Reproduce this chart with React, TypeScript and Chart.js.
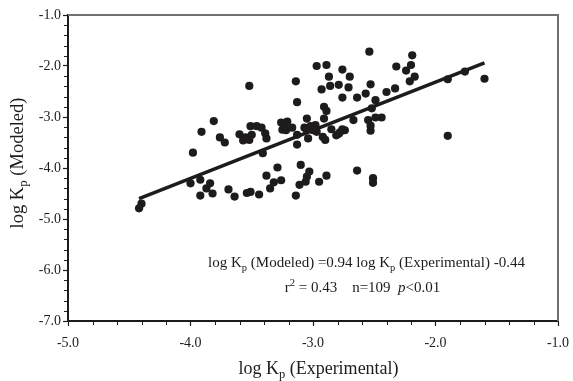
import { useEffect, useRef } from 'react';
import { Chart, registerables } from 'chart.js';

Chart.register(...registerables);

// ---- data ----
const expX = [
  -4.42, -4.40, -3.98, -4.00, -3.92, -3.92, -3.87, -3.84, -3.82, -3.91,
  -3.81, -3.76, -3.72, -3.69, -3.64, -3.60, -3.57, -3.52, -3.50, -3.51,
  -3.46, -3.42, -3.39, -3.38, -3.54, -3.51, -3.44, -3.52, -3.41, -3.38,
  -3.35, -3.32, -3.29, -3.26, -3.26, -3.21, -3.25, -3.22, -3.17, -3.14,
  -3.13, -3.13, -3.13, -3.14, -3.11, -3.10, -3.06, -3.05, -3.03, -3.07,
  -3.02, -2.98, -3.05, -2.97, -3.05, -3.04, -2.97, -2.89, -2.76, -2.87,
  -2.70, -2.93, -2.86, -2.79, -2.71, -2.76, -2.64, -2.91, -2.89, -2.91,
  -2.92, -2.90, -2.85, -2.81, -2.79, -2.76, -2.74, -2.67, -2.57, -2.54,
  -2.53, -2.55, -2.52, -2.49, -2.49, -2.44, -2.53, -2.53, -2.40, -2.33,
  -2.32, -2.24, -2.20, -2.19, -2.17, -2.21, -1.90, -1.76, -1.60, -1.90,
  -2.95, -2.89, -2.64, -2.51, -2.51, -3.23, -3.00, -2.78, -3.55,
];
const modY = [
  -4.79, -4.70, -3.70, -4.30, -4.23, -4.54, -4.40, -4.30, -4.50, -3.29,
  -3.08, -3.40, -3.50, -4.42, -4.56, -3.34, -3.46, -3.45, -3.35, -3.18,
  -3.18, -3.21, -3.32, -3.42, -4.49, -4.47, -4.52, -2.39, -3.71, -4.15,
  -4.40, -4.28, -3.99, -4.24, -3.11, -3.09, -3.25, -3.26, -3.21, -2.30,
  -2.71, -3.35, -3.54, -4.54, -4.33, -3.94, -4.27, -4.17, -4.07, -3.21,
  -3.18, -3.16, -3.25, -3.29, -3.03, -3.42, -2.00, -1.98, -2.07, -2.21,
  -2.21, -2.46, -2.39, -2.37, -2.42, -2.62, -2.62, -2.80, -2.88, -3.03,
  -3.39, -3.45, -3.24, -3.36, -3.33, -3.24, -3.26, -3.06, -2.54, -1.72,
  -2.36, -3.06, -2.83, -2.67, -3.01, -3.01, -3.17, -3.27, -2.51, -2.44,
  -2.01, -2.09, -1.98, -1.79, -2.21, -2.30, -2.26, -2.11, -2.25, -3.37,
  -4.27, -4.15, -4.05, -4.20, -4.29, -3.17, -3.26, -3.30, -3.40,
];
const fitX = [-4.42, -1.6];
const fitY = [-4.60, -1.94];

const xMin = -5, xMax = -1, xStep = 1, xMinorStep = 0.2;
const yMin = -7, yMax = -1, yStep = 1, yMinorStep = 0.2;

const INK = '#1d1b1c';
const FRAME = '#707070';
const SERIF = '"Liberation Serif", "Times New Roman", serif';

type Seg = { text: string; size: number; dy?: number; italic?: boolean };

function drawRich(ctx: CanvasRenderingContext2D, segs: Seg[], x: number, y: number, center: boolean) {
  const font = (s: Seg) => `${s.italic ? 'italic ' : ''}${s.size}px ${SERIF}`;
  const widths = segs.map((s) => {
    ctx.font = font(s);
    return ctx.measureText(s.text).width;
  });
  const total = widths.reduce((a, b) => a + b, 0);
  let cx = center ? x - total / 2 : x;
  ctx.textAlign = 'left';
  ctx.textBaseline = 'alphabetic';
  segs.forEach((s, i) => {
    ctx.font = font(s);
    ctx.fillText(s.text, cx, y + (s.dy || 0));
    cx += widths[i];
  });
}

const decor = {
  id: 'decor',
  afterDraw(chart: any) {
    const { ctx, chartArea: a, scales } = chart;
    const xs = scales.x;
    const ys = scales.y;
    ctx.save();
    // grey top / right frame
    ctx.strokeStyle = FRAME;
    ctx.lineWidth = 2;
    ctx.beginPath();
    ctx.moveTo(a.left, a.top);
    ctx.lineTo(a.right, a.top);
    ctx.lineTo(a.right, a.bottom);
    ctx.stroke();

    // minor ticks
    ctx.strokeStyle = INK;
    ctx.lineWidth = 1;
    ctx.beginPath();
    for (let v = xMin + xMinorStep; v < xMax - 1e-6; v += xMinorStep) {
      if (Math.abs(v - Math.round(v)) < 1e-6) continue;
      const px = Math.round(xs.getPixelForValue(v)) + 0.5;
      ctx.moveTo(px, a.bottom);
      ctx.lineTo(px, a.bottom + 4);
    }
    for (let v = yMin + yMinorStep; v < yMax - 1e-6; v += yMinorStep) {
      if (Math.abs(v - Math.round(v)) < 1e-6) continue;
      const py = Math.round(ys.getPixelForValue(v)) + 0.5;
      ctx.moveTo(a.left, py);
      ctx.lineTo(a.left - 4, py);
    }
    ctx.stroke();

    ctx.fillStyle = INK;
    // x title
    drawRich(ctx, [
      { text: 'log K', size: 18 },
      { text: 'p', size: 12.5, dy: 4 },
      { text: ' (Experimental)', size: 18 },
    ], 318.5, 374, true);

    // y title (rotated)
    ctx.save();
    ctx.translate(23, 163);
    ctx.rotate(-Math.PI / 2);
    drawRich(ctx, [
      { text: 'log K', size: 18.5 },
      { text: 'p', size: 13, dy: 4 },
      { text: ' (Modeled)', size: 18.5 },
    ], 0, 0, true);
    ctx.restore();

    // equation
    drawRich(ctx, [
      { text: 'log K', size: 15 },
      { text: 'p', size: 10.5, dy: 3.5 },
      { text: ' (Modeled) =0.94 log K', size: 15 },
      { text: 'p', size: 10.5, dy: 3.5 },
      { text: ' (Experimental) -0.44', size: 15 },
    ], 366.5, 267, true);
    drawRich(ctx, [
      { text: 'r', size: 15 },
      { text: '2', size: 10.5, dy: -6 },
      { text: ' = 0.43    n=109  ', size: 15 },
      { text: 'p', size: 15, italic: true },
      { text: '<0.01', size: 15 },
    ], 362.5, 292, true);
    ctx.restore();
  },
};

export default function App() {
  const ref = useRef<HTMLCanvasElement | null>(null);

  useEffect(() => {
    if (!ref.current) return;
    const points = expX.map((x, i) => ({ x, y: modY[i] }));
    const fit = fitX.map((x, i) => ({ x, y: fitY[i] }));
    const tickFont = { family: SERIF, size: 14 };
    const chart = new Chart(ref.current, {
      type: 'scatter',
      data: {
        datasets: [
          {
            data: points,
            backgroundColor: INK,
            borderWidth: 0,
            pointRadius: 4.1,
            pointHoverRadius: 4.1,
          },
          {
            data: fit,
            showLine: true,
            borderColor: INK,
            borderWidth: 3.6,
            pointRadius: 0,
            borderCapStyle: 'butt',
          } as any,
        ],
      },
      options: {
        responsive: false,
        animation: false,
        devicePixelRatio: 1,
        layout: { padding: { top: 15, right: 15, left: 0, bottom: 0 } },
        plugins: { legend: { display: false }, tooltip: { enabled: false } },
        scales: {
          x: {
            type: 'linear',
            min: xMin,
            max: xMax,
            afterFit: (s: any) => { s.height = 60; s.paddingLeft = 0; s.paddingRight = 0; },
            ticks: {
              stepSize: xStep,
              color: INK,
              font: tickFont,
              padding: 9,
              callback: (v: any) => Number(v).toFixed(1),
            },
            grid: {
              drawOnChartArea: false,
              drawTicks: true,
              tickLength: 5,
              tickColor: INK,
              tickWidth: 1.2,
            },
            border: { display: true, color: INK, width: 2 },
          },
          y: {
            type: 'linear',
            min: yMin,
            max: yMax,
            afterFit: (s: any) => { s.width = 68; s.paddingTop = 0; s.paddingBottom = 0; },
            ticks: {
              stepSize: yStep,
              color: INK,
              font: tickFont,
              padding: 2,
              callback: (v: any) => Number(v).toFixed(1),
            },
            grid: {
              drawOnChartArea: false,
              drawTicks: true,
              tickLength: 5,
              tickColor: INK,
              tickWidth: 1.2,
            },
            border: { display: true, color: INK, width: 2 },
          },
        },
      },
      plugins: [decor],
    });
    return () => chart.destroy();
  }, []);

  return (
    <div style={{ position: 'absolute', left: 0, top: 0, width: 573, height: 381, background: '#fff' }}>
      <canvas ref={ref} width={573} height={381} style={{ width: 573, height: 381, display: 'block' }} />
    </div>
  );
}
